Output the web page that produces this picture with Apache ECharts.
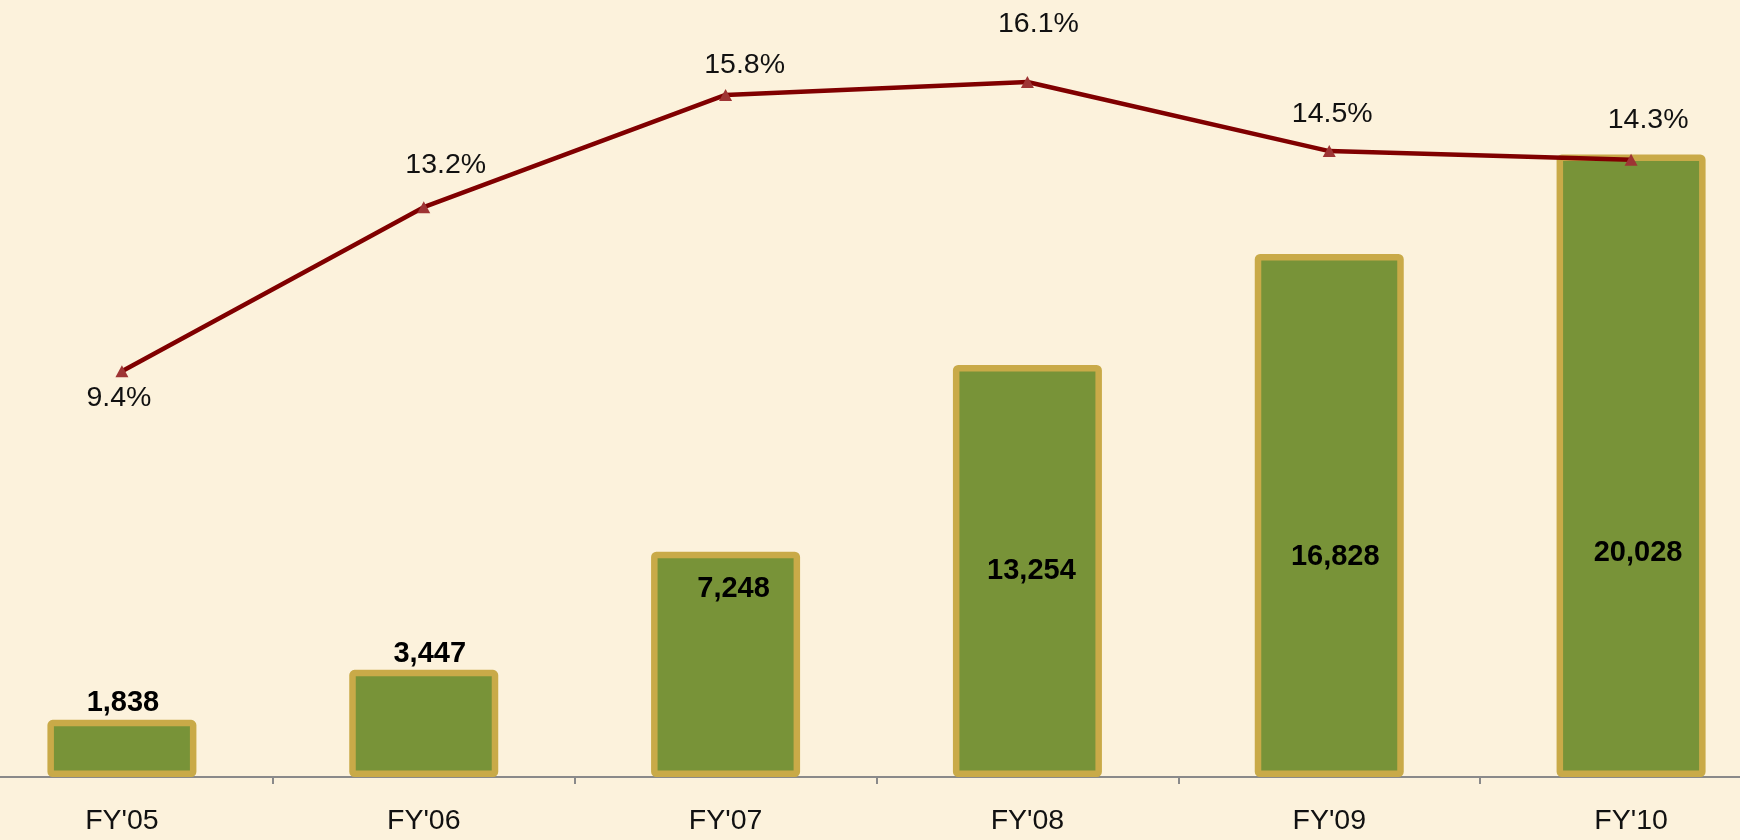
<!DOCTYPE html>
<html>
<head>
<meta charset="utf-8">
<script src="https://cdn.jsdelivr.net/npm/echarts@6/dist/echarts.min.js"></script>
<style>
  html, body { margin: 0; padding: 0; background: #fcf2dc; }
  #chart { width: 1740px; height: 840px; }
</style>
</head>
<body>
<div id="chart"></div>
<script>
const years = ["FY'05", "FY'06", "FY'07", "FY'08", "FY'09", "FY'10"];
const revenue = [1838, 3447, 7248, 13254, 16828, 20028];
const marginPct = [9.4, 13.2, 15.8, 16.1, 14.5, 14.3];

// label placement (px): bar labels measured from the bar top, pct labels from the marker
const barLabelDrop = [-17, -16, 37, 206, 303, 398];
const barLabelShift = [1, 6, 8, 4, 6, 7];
const pctLabelShift = [[-3, 27], [22, -42], [19, -30], [11, -58], [3, -37], [17, -40]];

const FONT = "'Liberation Sans', Arial, sans-serif";

let chart = echarts.init(document.getElementById('chart'));

chart.setOption({
    backgroundColor: '#fcf2dc',
    animation: false,
    grid: { left: -29, right: -42, top: 0, bottom: 63, outerBoundsMode: 'none', containLabel: false },
    xAxis: {
        type: 'category',
        data: years,
        axisLine: { lineStyle: { color: '#8a8a8a', width: 2 } },
        axisTick: { show: true, length: 7, lineStyle: { color: '#8a8a8a', width: 2 } },
        axisLabel: { color: '#111', fontSize: 28.5, fontFamily: FONT, margin: 30 }
    },
    yAxis: [
        { type: 'value', min: 0, max: 25000, show: false, splitLine: { show: false } },
        { type: 'value', min: 0, max: 18, show: false, splitLine: { show: false } }
    ],
    series: [
        {
            name: 'Revenue',
            type: 'bar',
            barWidth: 149,
            data: revenue.map((v, i) => ({
                value: v,
                label: {
                    position: ['50%', barLabelDrop[i]],
                    offset: [barLabelShift[i], 0]
                }
            })),
            itemStyle: {
                color: '#789338',
                borderColor: '#c9aa48',
                borderWidth: 6.5,
                borderRadius: 2
            },
            label: {
                show: true,
                align: 'center',
                verticalAlign: 'middle',
                color: '#000',
                fontSize: 29,
                fontWeight: 'bold',
                fontFamily: FONT,
                formatter: p => p.value.toLocaleString('en-US')
            }
        },
        {
            name: 'Margin',
            type: 'line',
            yAxisIndex: 1,
            data: marginPct.map((v, i) => ({
                value: v,
                label: { offset: pctLabelShift[i] }
            })),
            symbol: 'triangle',
            symbolSize: [13, 12],
            lineStyle: { color: '#800000', width: 4.5 },
            itemStyle: { color: '#9e3434' },
            z: 5,
            label: {
                show: true,
                position: 'inside',
                color: '#111',
                fontSize: 28.5,
                fontFamily: FONT,
                formatter: p => p.value.toFixed(1) + '%'
            }
        }
    ]
});
</script>
</body>
</html>
